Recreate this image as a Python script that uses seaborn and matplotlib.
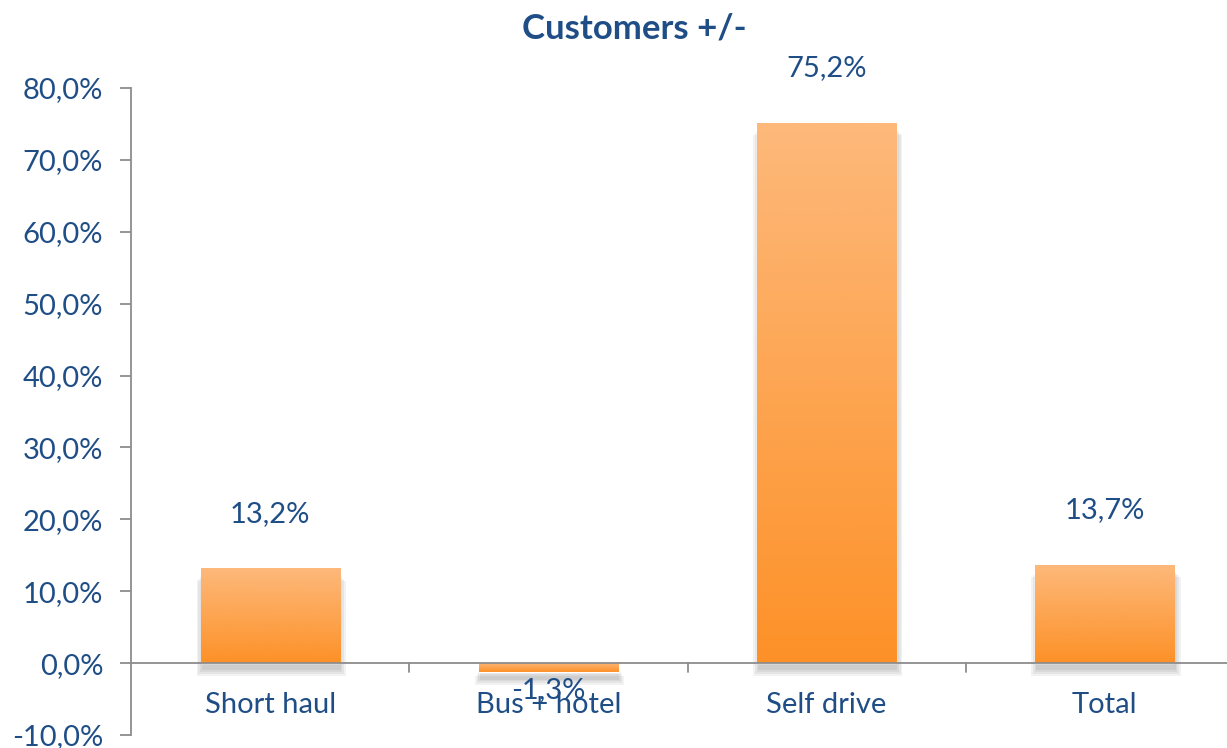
import numpy as np
import pandas as pd
import seaborn as sns
import matplotlib.pyplot as plt
from matplotlib.colors import LinearSegmentedColormap

categories = ['Short haul', 'Bus + hotel', 'Self drive', 'Total']
values = [13.2, -1.3, 75.2, 13.7]
labels = ['13,2%', '-1,3%', '75,2%', '13,7%']
yticks = [-10, 0, 10, 20, 30, 40, 50, 60, 70, 80]

df = pd.DataFrame({'category': categories, 'change': values})

sns.set_style('white')
plt.rcParams['font.family'] = ['Lato', 'DejaVu Sans']
blue = '#1F4E87'
gray = '#8C8C8C'

fig = plt.figure(figsize=(12.27, 7.48), dpi=100)
ax = fig.add_axes([131 / 1227, 13 / 748, 1113 / 1227, 647 / 748])

sns.barplot(data=df, x='category', y='change', color='#FDA352', width=0.5,
            ax=ax, zorder=3)

ax.set_ylim(-10, 80)
ax.set_xlim(-0.5, 3.5)

# gradient fill + soft shadow for each bar
cmap = LinearSegmentedColormap.from_list('og', ['#FD9128', '#FDB97B'])
grad = np.linspace(0, 1, 256).reshape(-1, 1)
for p in ax.patches:
    x0, y0 = p.get_x(), p.get_y()
    w, h = p.get_width(), p.get_height()
    ylo, yhi = min(y0, y0 + h), max(y0, y0 + h)
    for k in range(4):
        d = 0.006 * k
        sh = plt.Rectangle((x0 + 0.004 - d, ylo - 1.0 - 0.25 * k), w + 2 * d,
                           yhi - ylo, color='#000000', alpha=0.05, zorder=2, lw=0)
        ax.add_patch(sh)
    im = ax.imshow(grad, extent=[x0, x0 + w, ylo, yhi], origin='lower',
                   cmap=cmap, aspect='auto', zorder=3)
    im.set_clip_path(p)
    p.set_facecolor('none')

for i, (v, lab) in enumerate(zip(values, labels)):
    if v >= 0:
        ax.text(i, v + 7.6, lab, ha='center', va='center', color=blue, fontsize=21)
    else:
        ax.text(i, -3.7, lab, ha='center', va='center', color=blue, fontsize=21)

ax.axhline(0, color=gray, lw=1.3, zorder=4)
for b in [0.5, 1.5, 2.5]:
    ax.plot([b, b], [0, -1.3], color=gray, lw=1.3, zorder=4, clip_on=False)

for i, c in enumerate(categories):
    ax.text(i, -5.8, c, ha='center', va='center', color=blue, fontsize=21)

ax.set_xticks([])
ax.set_yticks(yticks)
ax.set_yticklabels([f'{t:.1f}%'.replace('.', ',') for t in yticks],
                   color=blue, fontsize=21)
ax.tick_params(axis='y', direction='out', length=8, width=1.3, color=gray,
               left=True, pad=12)
for s in ['top', 'right', 'bottom']:
    ax.spines[s].set_visible(False)
ax.spines['left'].set_color(gray)
ax.spines['left'].set_linewidth(1.3)
ax.set_xlabel('')
ax.set_ylabel('')

fig.text(634 / 1227, 1 - 28 / 748, 'Customers +/-', ha='center', va='center',
         color=blue, fontsize=25, fontweight='bold')

fig.savefig('out.png', dpi=100)
